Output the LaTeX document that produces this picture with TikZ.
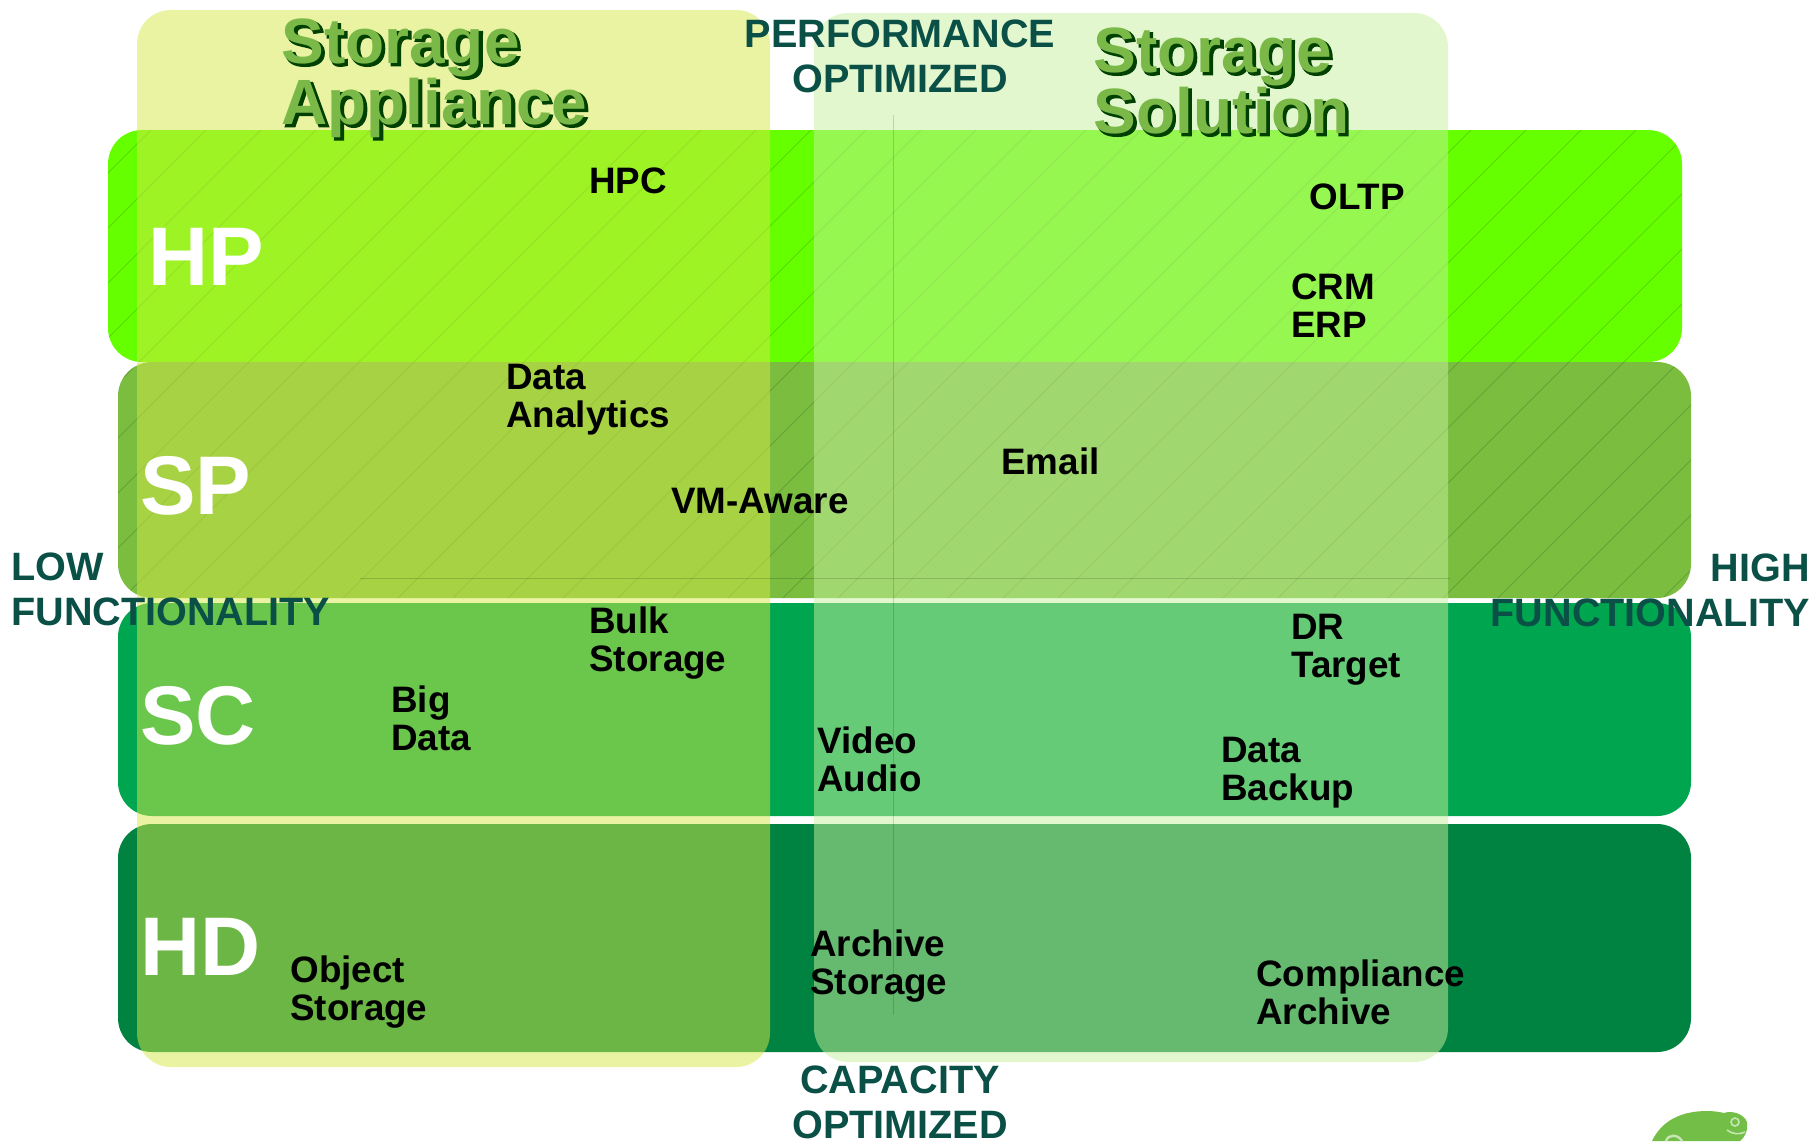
\documentclass[tikz,border=0pt]{standalone}
\usepackage{fontspec}
\setmainfont{Liberation Sans}
\newfontfamily\shadefont[BoldFeatures={FakeBold=2.5}]{Liberation Sans}
\definecolor{hpc}{RGB}{102,255,0}
\definecolor{spc}{RGB}{122,189,63}
\definecolor{scc}{RGB}{0,166,79}
\definecolor{hdc}{RGB}{0,130,64}
\definecolor{appc}{RGB}{211,232,72}
\definecolor{solc}{RGB}{200,240,159}
\definecolor{axisc}{RGB}{10,80,70}
\definecolor{titlec}{RGB}{122,184,72}
\definecolor{logoc}{RGB}{115,190,70}
\tikzset{
 x=0.5pt,y=-0.5pt,
 band/.style={rounded corners=17pt},
 panel/.style={rounded corners=17pt,fill opacity=0.51},
 item/.style={font=\bfseries\fontsize{18.4}{19}\selectfont,text=black,align=left,anchor=north west,inner sep=0pt},
 grade/.style={font=\bfseries\fontsize{41.6}{44}\selectfont,text=white,anchor=west,inner sep=0pt},
 axislabel/.style={font=\bfseries\fontsize{19.8}{22.5}\selectfont,text=axisc,align=center,inner sep=0pt},
 hatch/.style={draw=black,draw opacity=0.15,line width=0.4pt},
 titlefill/.style={font=\bfseries\fontsize{32}{30.5}\selectfont,align=left,anchor=north west,inner sep=0pt,text=titlec},
 titleshade/.style={font=\shadefont\bfseries\fontsize{32}{30.5}\selectfont,align=left,anchor=north west,inner sep=0pt,text=black!75!green},
}
\begin{document}
\begin{tikzpicture}
\useasboundingbox (0,0) rectangle (1814,1141);
% bands
\fill[hpc,band] (108,130) rectangle (1682,362);
\fill[spc,band] (118,362) rectangle (1691,598);
\fill[scc,band] (118,603) rectangle (1691,816);
\fill[hdc,band] (118,824) rectangle (1691,1052);
% hatching
\begin{scope}
\clip[band] (108,130) rectangle (1682,362);
\foreach \i in {0,...,38} {
 \draw[hatch] ({108+55*\i-480},598) -- ++(480,-480);
}
\end{scope}
\begin{scope}
\clip[band] (118,362) rectangle (1691,598);
\foreach \i in {0,...,38} {
 \draw[hatch] ({108+55*\i-480},598) -- ++(480,-480);
}
\end{scope}
% panels
\fill[appc,panel] (137,10) rectangle (770,1067);
\fill[solc,panel] (814,13) rectangle (1448,1062);
% axes
\coordinate (vt) at (893,115); \coordinate (vb) at (893,1015);
\coordinate (hl) at (360,578); \coordinate (hr) at (1450,578);
\draw[hatch] (vt) -- (vb);
\draw[hatch] (hl) -- (hr);
% grades
\node[grade] (nhp) at (148,257) {HP};
\node[grade] (nsp) at (140,486) {SP};
\node[grade] (nsc) at (140,716) {SC};
\node[grade] (nhd) at (140,947) {HD};
% titles
\node[titleshade] (sapp) at (283.5,20.5) {Storage\\Appliance};
\node[titleshade] (ssol) at (1095.5,29.5) {Storage\\Solution};
\node[titlefill] (tapp) at (281,18) {Storage\\Appliance};
\node[titlefill] (tsol) at (1093,27) {Storage\\Solution};
% axis labels
\node[axislabel] (perf) at (900,56) {PERFORMANCE\\OPTIMIZED};
\node[axislabel] (capa) at (900,1102) {CAPACITY\\OPTIMIZED};
\node[axislabel,align=left,anchor=north west] (low) at (11,552) {LOW\\FUNCTIONALITY};
\node[axislabel,align=right,anchor=north east] (high) at (1810,553) {HIGH\\FUNCTIONALITY};
% items
\node[item] (i1) at (589,167) {HPC};
\node[item] (i2) at (1309,183) {OLTP};
\node[item] (i3) at (1291,273) {CRM\\ERP};
\node[item] (i4) at (506,364) {Data\\Analytics};
\node[item] (i5) at (1001,447) {Email};
\node[item] (i6) at (671,488) {VM-Aware};
\node[item] (i7) at (589,606) {Bulk\\Storage};
\node[item] (i8) at (1291,614) {DR\\Target};
\node[item] (i9) at (391,685) {Big\\Data};
\node[item] (i10) at (817,726) {Video\\Audio};
\node[item] (i11) at (1221,737) {Data\\Backup};
\node[item] (i12) at (810,929) {Archive\\Storage};
\node[item] (i13) at (290,955) {Object\\Storage};
\node[item] (i14) at (1256,959) {Compliance\\Archive};
% logo
\begin{scope}
\clip (1640,1100) rectangle (1760,1141);
\fill[logoc] (1652,1141) .. controls (1662,1120) and (1682,1111) .. (1707,1111)
 .. controls (1714,1111) and (1720,1112) .. (1724,1113)
 .. controls (1732,1110) and (1744,1114) .. (1747,1122)
 .. controls (1748,1130) and (1746,1136) .. (1740,1141) -- cycle;
\draw[white!60!logoc,line width=0.8pt] (1735,1122) circle (4);
\draw[white!60!logoc,line width=0.8pt] (1727,1130) .. controls (1732,1134) and (1739,1135) .. (1745,1132);
\draw[white!60!logoc,line width=1.2pt] (1666,1141) .. controls (1668,1134) and (1678,1134) .. (1682,1141);
\end{scope}
\end{tikzpicture}
\end{document}
